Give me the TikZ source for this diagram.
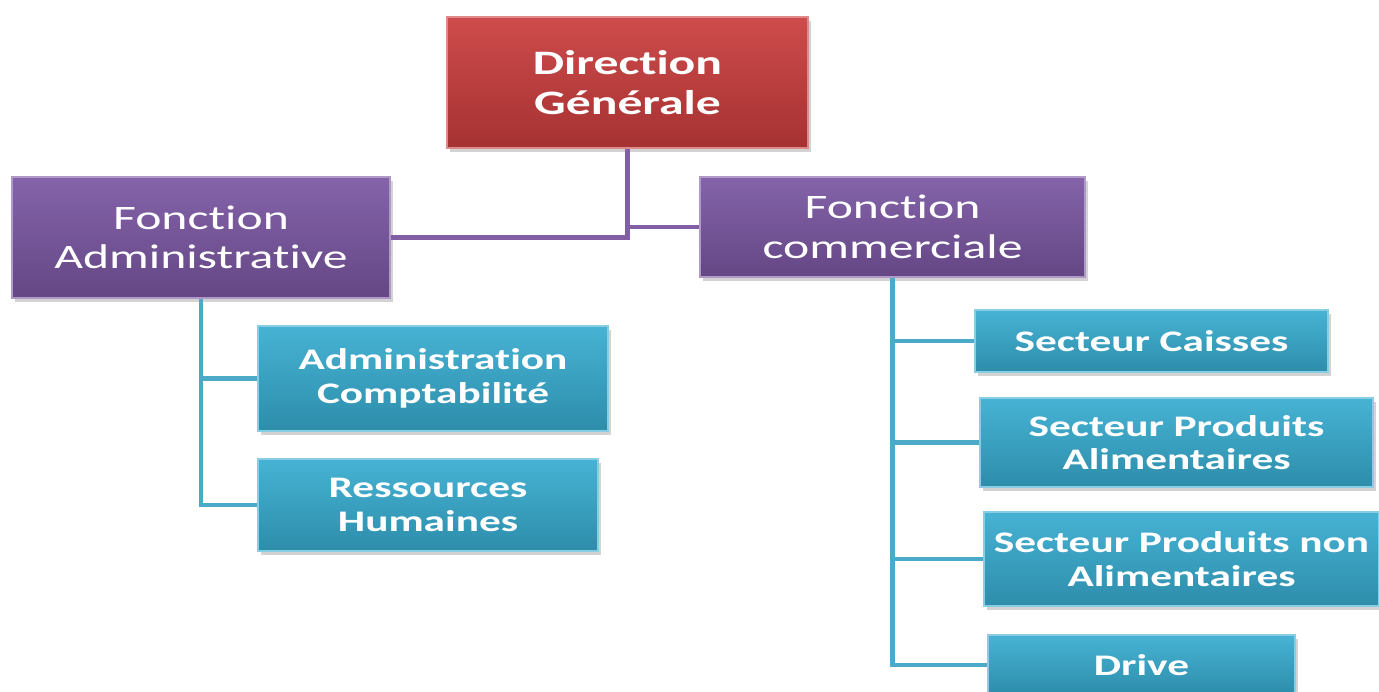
\documentclass[tikz,border=0pt]{standalone}
\usepackage{fontspec}
\usepackage{tikz}
\usetikzlibrary{positioning, shadows}
\newfontfamily\boxfont[FakeStretch=1.45, Ligatures={NoCommon,NoRequired,NoContextual}, Contextuals=NoAlternate]{Carlito}
\definecolor{dirred}{RGB}{202, 60, 60}
\definecolor{funcpurple}{RGB}{122, 86, 162}
\definecolor{secblue}{RGB}{55, 172, 208}
\definecolor{linkpurple}{RGB}{128, 95, 165}
\definecolor{linkblue}{RGB}{75, 170, 200}

\begin{document}
\begin{tikzpicture}[
    orgbox/.style={rectangle, draw=white!40!#1, line width=0.8pt, align=center, text=white,
        top color=#1!92!white, bottom color=#1!82!black,
        drop shadow={opacity=0.35, shadow xshift=0.06cm, shadow yshift=-0.08cm}},
    dirbox/.style={orgbox=dirred, font=\boxfont\bfseries\fontsize{19.5}{22.5}\selectfont},
    funcbox/.style={orgbox=funcpurple, font=\boxfont\fontsize{19.5}{22.5}\selectfont},
    secbox/.style={orgbox=secblue, font=\boxfont\bfseries\fontsize{17}{19}\selectfont},
    purplelink/.style={draw=linkpurple, line width=2.8pt},
    bluelink/.style={draw=linkblue, line width=2.8pt}
]
\useasboundingbox (0,0) rectangle (27.58,-13.82);

\node[dirbox, minimum width=7.22cm, minimum height=2.62cm] (dg) at (12.55,-1.65) {Direction\\Générale};

\node[funcbox, minimum width=7.56cm, minimum height=2.42cm] (fa) at (4.02,-4.75) {Fonction\\Administrative};
\node[funcbox, minimum width=7.7cm, minimum height=2.0cm] (fc) at (17.85,-4.54) {Fonction\\commerciale};

\node[secbox, minimum width=7.0cm, minimum height=2.1cm] (ac) at (8.66,-7.57) {Administration\\Comptabilité};
\node[secbox, minimum width=6.8cm, minimum height=1.84cm] (rh) at (8.56,-10.1) {Ressources\\Humaines};

\node[secbox, minimum width=7.06cm, minimum height=1.24cm] (sc) at (23.03,-6.82) {Secteur Caisses};
\node[secbox, minimum width=7.86cm, minimum height=1.78cm] (spa) at (23.53,-8.85) {Secteur Produits\\Alimentaires};
\node[secbox, minimum width=7.9cm, minimum height=1.88cm] (spna) at (23.63,-11.18) {Secteur Produits non\\Alimentaires};
\node[secbox, minimum width=6.14cm, minimum height=1.2cm] (dr) at (22.83,-13.3) {Drive};

\draw[purplelink] (dg.south) |- (fa.east);
\draw[purplelink] (dg.south |- fc.west) -- (fc.west);

\draw[bluelink] (fa.south) |- (ac.west);
\draw[bluelink] (fa.south) |- (rh.west);

\draw[bluelink] (fc.south) |- (sc.west);
\draw[bluelink] (fc.south) |- (spa.west);
\draw[bluelink] (fc.south) |- (spna.west);
\draw[bluelink] (fc.south) |- (dr.west);
\end{tikzpicture}
\end{document}
